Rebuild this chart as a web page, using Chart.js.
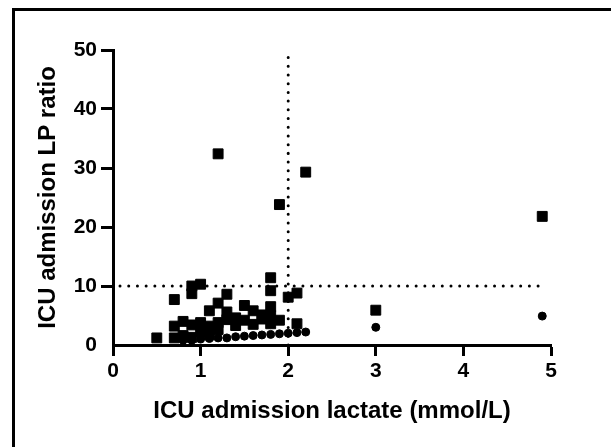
<!DOCTYPE html>
<html>
<head>
<meta charset="utf-8">
<script src="https://cdn.jsdelivr.net/npm/chart.js@4/dist/chart.umd.min.js"></script>
<style>
  html, body { margin: 0; padding: 0; background: #fff; }
  #wrap { position: relative; width: 611px; height: 447px; overflow: hidden; }
  #frame { position: absolute; left: 12px; top: 8px; right: 0; bottom: 0; border-top: 3px solid #000; border-left: 3px solid #000; }
  canvas { position: absolute; left: 0; top: 0; }
</style>
</head>
<body>
<div id="wrap">
  <div id="frame"></div>
  <canvas id="lpChart" width="611" height="447"></canvas>
</div>
<script>
// squares: ICU admission LP ratio vs lactate
const squareLactate = [0.5, 0.7, 0.7, 0.7, 0.8, 0.8, 0.9, 0.9, 0.9, 0.9, 1.0, 1.0, 1.0, 1.1, 1.1, 1.1,
    1.2, 1.2, 1.2, 1.2, 1.3, 1.3, 1.3, 1.4, 1.4, 1.5, 1.5, 1.6, 1.6, 1.7, 1.7, 1.8, 1.8, 1.8, 1.8, 1.8,
    1.9, 1.9, 2.0, 2.1, 2.1, 2.2, 3.0, 4.9];
const squareLP = [1.2, 7.7, 3.2, 1.2, 4.0, 1.6, 10.0, 8.7, 3.4, 1.3, 10.3, 3.8, 2.2, 5.8, 3.2, 1.7,
    32.4, 7.1, 3.8, 2.6, 8.6, 5.6, 4.3, 4.6, 3.3, 6.7, 4.2, 5.8, 3.5, 5.1, 4.4, 11.4, 9.2, 6.5, 5.0, 3.6,
    23.8, 4.2, 8.1, 8.8, 3.6, 29.3, 5.9, 21.8];
// circles
const circleLactate = [0.8, 0.9, 1.0, 1.1, 1.2, 1.3, 1.4, 1.5, 1.6, 1.7, 1.8, 1.9, 2.0, 2.1, 2.2, 3.0, 4.9];
const circleValue = [0.8, 0.8, 1.0, 1.1, 1.2, 1.2, 1.4, 1.5, 1.6, 1.7, 1.8, 1.9, 2.0, 2.1, 2.2, 3.0, 4.9];

const xTicks = [0, 1, 2, 3, 4, 5];
const yTicks = [0, 10, 20, 30, 40, 50];
const lactateCutoff = 2;
const lpCutoff = 10;

const toPoints = (xs, ys) => xs.map((x, i) => ({ x: x, y: ys[i] }));

const tickFont = { family: '"Liberation Sans", Arial, sans-serif', size: 21, weight: 'bold' };
const titleFont = { family: '"Liberation Sans", Arial, sans-serif', size: 24, weight: 'bold' };

const ctx = document.getElementById('lpChart').getContext('2d');

new Chart(ctx, {
    type: 'scatter',
    data: {
        datasets: [{
            label: 'LP ratio',
            data: toPoints(squareLactate, squareLP),
            pointStyle: 'rect',
            pointRadius: 7,
            backgroundColor: '#000',
            borderColor: '#000',
            borderWidth: 1
        }, {
            label: 'circles',
            data: toPoints(circleLactate, circleValue),
            pointStyle: 'circle',
            pointRadius: 4,
            backgroundColor: '#000',
            borderColor: '#000',
            borderWidth: 1
        }, {
            label: 'LP cutoff',
            type: 'line',
            data: [{ x: 0.08, y: lpCutoff }, { x: 4.92, y: lpCutoff }],
            borderColor: '#000',
            borderWidth: 3,
            borderDash: [0.01, 8.7],
            borderCapStyle: 'round',
            pointRadius: 0,
            fill: false
        }, {
            label: 'lactate cutoff',
            type: 'line',
            data: [{ x: lactateCutoff, y: 0 }, { x: lactateCutoff, y: 50 }],
            borderColor: '#000',
            borderWidth: 3,
            borderDash: [0.01, 8.7],
            borderCapStyle: 'round',
            pointRadius: 0,
            fill: false
        }]
    },
    options: {
        responsive: false,
        animation: false,
        devicePixelRatio: 1,
        layout: { padding: { left: 15, right: 60, top: 50, bottom: 0 } },
        plugins: {
            legend: { display: false },
            tooltip: { enabled: false }
        },
        scales: {
            x: {
                type: 'linear',
                min: 0,
                max: 5,
                afterBuildTicks: (scale) => { scale.ticks = xTicks.map(v => ({ value: v })); },
                afterFit: (scale) => { scale.height = 102; },
                border: { display: true, color: '#000', width: 3 },
                grid: { drawOnChartArea: false, drawTicks: true, tickLength: 11, tickWidth: 3, tickColor: '#000' },
                ticks: { color: '#000', font: tickFont, padding: 3 },
                title: {
                    display: true,
                    text: 'ICU admission lactate (mmol/L)',
                    color: '#000',
                    font: titleFont,
                    padding: { top: 0, bottom: 21 }
                }
            },
            y: {
                type: 'linear',
                min: 0,
                max: 50,
                afterBuildTicks: (scale) => { scale.ticks = yTicks.map(v => ({ value: v })); },
                afterFit: (scale) => { scale.width = 98; },
                border: { display: true, color: '#000', width: 3 },
                grid: {
                    drawOnChartArea: false, drawTicks: true, tickLength: 12, tickWidth: 3,
                    tickColor: (c) => (c.tick && c.tick.value === 0) ? 'rgba(0,0,0,0)' : '#000'
                },
                ticks: { color: '#000', font: tickFont, padding: 4 },
                title: {
                    display: true,
                    text: 'ICU admission LP ratio',
                    color: '#000',
                    font: titleFont,
                    padding: { top: 19, bottom: 0 }
                }
            }
        }
    }
});
</script>
</body>
</html>
